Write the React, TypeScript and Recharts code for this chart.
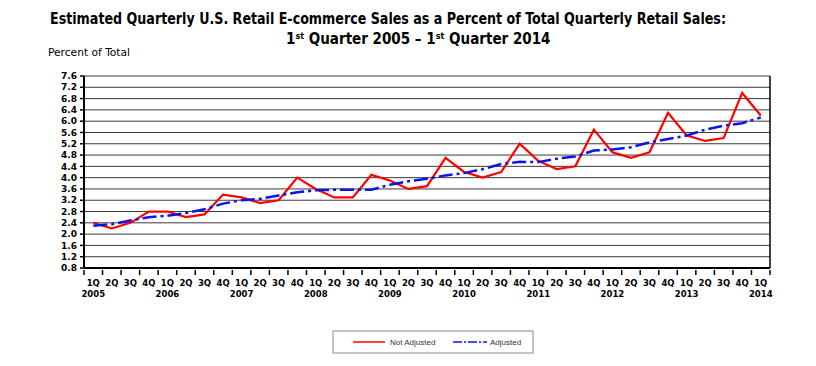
import { LineChart, Line, XAxis, YAxis, CartesianGrid } from 'recharts';

// quarters from 1Q 2005 to 1Q 2014
const categories = [
  '1Q 2005', '2Q 2005', '3Q 2005', '4Q 2005',
  '1Q 2006', '2Q 2006', '3Q 2006', '4Q 2006',
  '1Q 2007', '2Q 2007', '3Q 2007', '4Q 2007',
  '1Q 2008', '2Q 2008', '3Q 2008', '4Q 2008',
  '1Q 2009', '2Q 2009', '3Q 2009', '4Q 2009',
  '1Q 2010', '2Q 2010', '3Q 2010', '4Q 2010',
  '1Q 2011', '2Q 2011', '3Q 2011', '4Q 2011',
  '1Q 2012', '2Q 2012', '3Q 2012', '4Q 2012',
  '1Q 2013', '2Q 2013', '3Q 2013', '4Q 2013',
  '1Q 2014',
];

const notAdjusted = [
  2.4, 2.2, 2.4, 2.8,
  2.8, 2.6, 2.7, 3.4,
  3.3, 3.1, 3.2, 4.0,
  3.6, 3.3, 3.3, 4.1,
  3.9, 3.6, 3.7, 4.7,
  4.2, 4.0, 4.2, 5.2,
  4.6, 4.3, 4.4, 5.7,
  4.9, 4.7, 4.9, 6.3,
  5.5, 5.3, 5.4, 7.0,
  6.2,
];

const adjusted = [
  2.3, 2.35, 2.48, 2.6,
  2.65, 2.75, 2.88, 3.08,
  3.2, 3.25, 3.37, 3.48,
  3.55, 3.57, 3.57, 3.57,
  3.75, 3.87, 3.96, 4.08,
  4.16, 4.3, 4.48, 4.56,
  4.55, 4.67, 4.75, 4.96,
  5.0, 5.08, 5.25, 5.37,
  5.49, 5.7, 5.84, 5.93,
  6.13,
];

const yTicks = [0.8, 1.2, 1.6, 2.0, 2.4, 2.8, 3.2, 3.6, 4.0, 4.4, 4.8, 5.2, 5.6, 6.0, 6.4, 6.8, 7.2, 7.6];

const data = categories.map((c, i) => ({
  name: c,
  notAdj: notAdjusted[i],
  adj: adjusted[i],
}));

const axisFont = 'DejaVu Sans, Verdana, sans-serif';
const smallFont = 'Liberation Sans, Arial, sans-serif';
const titleFont = 'DejaVu Sans Condensed, DejaVu Sans, sans-serif';

// quarter label centred in its band, year under each 1Q, tick marks on band edges
function QuarterTick(props: any) {
  const { x, y, payload, index, width, visibleTicksCount } = props;
  const [q, yr] = String(payload.value).split(' ');
  const bw = width / visibleTicksCount;
  const last = index === visibleTicksCount - 1;
  return (
    <g>
      <line x1={x - bw / 2} x2={x - bw / 2} y1={y - 6} y2={y - 1} stroke="#000" strokeWidth={1.5} />
      {last && <line x1={x + bw / 2} x2={x + bw / 2} y1={y - 6} y2={y - 1} stroke="#000" strokeWidth={1.5} />}
      <text x={x} y={y + 10} textAnchor="middle" fontFamily={axisFont} fontWeight="bold" fontSize={8.5} fill="#000">
        {q}
      </text>
      {q === '1Q' && (
        <text x={x} y={y + 21} textAnchor="middle" fontFamily={axisFont} fontWeight="bold" fontSize={8.5} fill="#000">
          {yr}
        </text>
      )}
    </g>
  );
}

export default function App() {
  return (
    <div style={{ position: 'relative', width: 816, height: 366, margin: -8, background: '#fff' }}>
      <LineChart
        width={816}
        height={366}
        data={data}
        margin={{ top: 76, right: 45, bottom: 68, left: 44 }}
      >
        <CartesianGrid vertical={false} stroke="#3a3a3a" strokeWidth={1} />
        <XAxis
          dataKey="name"
          scale="band"
          interval={0}
          height={30}
          tickLine={false}
          axisLine={{ stroke: '#000', strokeWidth: 2 }}
          tick={<QuarterTick />}
        />
        <YAxis
          domain={[0.8, 7.6]}
          ticks={yTicks}
          interval={0}
          width={40}
          tickSize={4}
          tickMargin={3}
          tickFormatter={(v: number) => v.toFixed(1)}
          tick={{ fontFamily: axisFont, fontWeight: 'bold', fontSize: 9, fill: '#000' }}
          tickLine={{ stroke: '#000', strokeWidth: 1.5 }}
          axisLine={{ stroke: '#000', strokeWidth: 2 }}
        />
        <YAxis
          yAxisId="frame"
          orientation="right"
          width={1}
          tick={false}
          tickLine={false}
          axisLine={{ stroke: '#000', strokeWidth: 1.5 }}
        />
        <Line
          dataKey="notAdj"
          stroke="#ff0000"
          strokeWidth={2.2}
          dot={false}
          isAnimationActive={false}
        />
        <Line
          dataKey="adj"
          stroke="#0a14e6"
          strokeWidth={2.5}
          strokeDasharray="14 4 3 4"
          dot={false}
          isAnimationActive={false}
        />
      </LineChart>
      <svg width={816} height={366} style={{ position: 'absolute', left: 0, top: 0, pointerEvents: 'none' }}>
        <text
          x={50}
          y={24}
          fontFamily={titleFont}
          fontWeight="bold"
          fontSize={15}
          fill="#000"
          textLength={676}
          lengthAdjust="spacingAndGlyphs"
        >
          Estimated Quarterly U.S. Retail E-commerce Sales as a Percent of Total Quarterly Retail Sales:
        </text>
        <text x={286} y={44} fontFamily={titleFont} fontWeight="bold" fontSize={15} fill="#000">
          1<tspan fontSize={9} dy={-5}>st</tspan>
          <tspan dy={5}> Quarter 2005 – 1</tspan>
          <tspan fontSize={9} dy={-5}>st</tspan>
          <tspan dy={5}> Quarter 2014</tspan>
        </text>
        <text
          x={48}
          y={56}
          fontFamily={titleFont}
          fontSize={11}
          fill="#000"
          textLength={82}
          lengthAdjust="spacingAndGlyphs"
        >
          Percent of Total
        </text>
        <rect x={333} y={331} width={200} height={22} fill="#fff" stroke="#8a8a8a" strokeWidth={1} />
        <line x1={353} x2={385} y1={342} y2={342} stroke="#ff0000" strokeWidth={1.5} />
        <text x={390} y={345} fontFamily={smallFont} fontSize={8} fill="#333">
          Not Adjusted
        </text>
        <line x1={453} x2={487} y1={342} y2={342} stroke="#0a14e6" strokeWidth={1.5} strokeDasharray="9 2 2 2" />
        <text x={490} y={345} fontFamily={smallFont} fontSize={8} fill="#333">
          Adjusted
        </text>
      </svg>
    </div>
  );
}
